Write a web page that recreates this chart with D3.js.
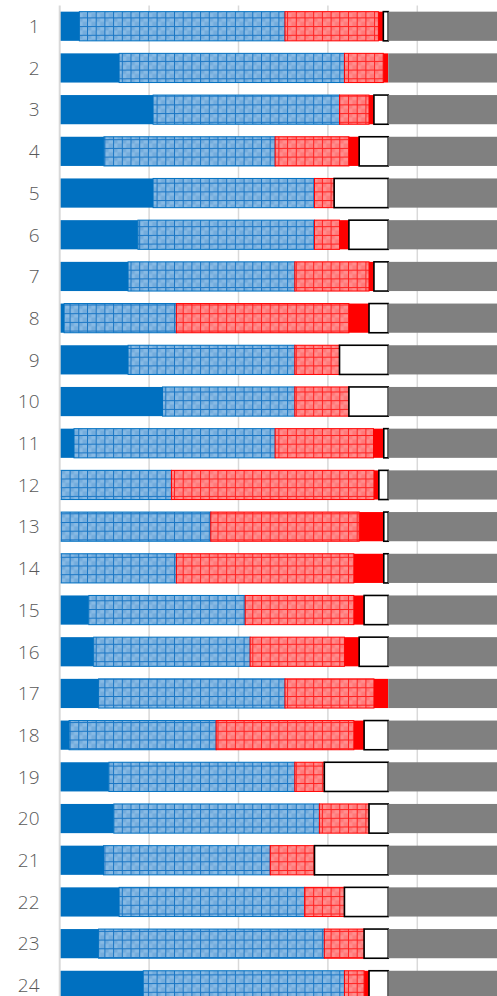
<!DOCTYPE html>
<html>
<head>
<meta charset="utf-8">
<script src="https://cdn.jsdelivr.net/npm/d3@7"></script>
<style>
  body { margin: 0; background: #fff; }
  svg { display: block; }
</style>
</head>
<body>
<div id="chart"></div>
<script>
// row labels
const categories = d3.range(1, 25).map(String)

// segment lengths per row, same order as categories
const solidBlue = [4.4, 13.3, 20.9, 9.9, 20.9, 17.5, 15.3, 1.0, 15.3, 23.0, 3.2, 0,
                   0, 0, 6.5, 7.6, 8.7, 2.1, 11.0, 12.1, 9.8, 13.3, 8.7, 18.7]
const hatchBlue = [46.0, 50.4, 41.7, 38.3, 36.1, 39.5, 37.3, 25.1, 37.3, 29.6, 45.0, 25.0,
                   33.8, 26.1, 35.0, 35.0, 41.7, 32.9, 41.6, 46.0, 37.3, 41.5, 50.5, 45.0]
const hatchRed  = [20.9, 8.7, 6.6, 16.5, 4.4, 5.6, 16.6, 38.6, 10.0, 12.1, 22.0, 45.3,
                   33.2, 39.7, 24.3, 21.1, 19.9, 30.8, 6.6, 11.1, 9.9, 8.9, 8.9, 4.4]
const solidRed  = [1.1, 1.1, 1.1, 2.3, 0, 2.1, 1.1, 4.5, 0, 0, 2.3, 1.1,
                   5.5, 6.7, 2.3, 3.3, 3.2, 2.3, 0, 0, 0, 0, 0, 1.1]
const whiteSeg  = [1.1, 0, 3.2, 6.5, 12.1, 8.8, 3.2, 4.3, 10.9, 8.8, 1.0, 2.1,
                   1.0, 1.0, 5.4, 6.5, 0, 5.4, 14.3, 4.3, 16.5, 9.8, 5.4, 4.3]
const greySeg   = categories.map(() => 26.5)

const xTicks = [0, 20, 40, 60, 80, 100]

const keys = ['solidBlue', 'hatchBlue', 'hatchRed', 'solidRed', 'white', 'grey']
const table = categories.map((c, i) => ({
    cat: c,
    solidBlue: solidBlue[i],
    hatchBlue: hatchBlue[i],
    hatchRed: hatchRed[i],
    solidRed: solidRed[i],
    white: whiteSeg[i],
    grey: greySeg[i]
}))

const width = 497, height = 996

const svg = d3.select('#chart').append('svg')
    .attr('width', width)
    .attr('height', height)

const x = d3.scaleLinear().domain([0, 100]).range([59.7, 506.7])
const y = d3.scaleBand().domain(categories)
    .range([5.4, 5.4 + 24 * 41.7])
    .paddingInner(0.3)
    .paddingOuter(0.15)

// grid patterns for the hatched segments
const defs = svg.append('defs')
const makePattern = (id, base, check, line) => {
    const s = 8.7
    const p = defs.append('pattern')
        .attr('id', id)
        .attr('patternUnits', 'userSpaceOnUse')
        .attr('width', s)
        .attr('height', s)
    p.append('rect').attr('width', s).attr('height', s).attr('fill', base)
    p.append('rect').attr('width', s / 2).attr('height', s / 2).attr('fill', check)
    p.append('rect').attr('x', s / 2).attr('y', s / 2)
        .attr('width', s / 2).attr('height', s / 2).attr('fill', check)
    p.append('line').attr('x1', 0.5).attr('x2', 0.5).attr('y1', 0).attr('y2', s)
        .attr('stroke', line).attr('stroke-width', 1)
    p.append('line').attr('y1', 0.5).attr('y2', 0.5).attr('x1', 0).attr('x2', s)
        .attr('stroke', line).attr('stroke-width', 1)
}
makePattern('gridBlue', '#88bae4', '#74acdc', '#1a76c4')
makePattern('gridRed', '#ff8e8e', '#ff7a7a', '#ff2020')

// vertical gridlines
svg.append('g')
    .selectAll('line')
    .data(xTicks.slice(1))
    .enter()
    .append('line')
        .attr('x1', d => x(d))
        .attr('x2', d => x(d))
        .attr('y1', 5.5)
        .attr('y2', height)
        .style('stroke', '#d9d9d9')
        .style('stroke-width', 1.5)

const fills = {
    solidBlue: '#0070c0',
    hatchBlue: 'url(#gridBlue)',
    hatchRed: 'url(#gridRed)',
    solidRed: '#ff0000',
    white: '#ffffff',
    grey: '#808080'
}
const strokes = {
    solidBlue: 'none',
    hatchBlue: '#0070c0',
    hatchRed: '#ff0000',
    solidRed: 'none',
    white: '#000000',
    grey: 'none'
}

const series = d3.stack().keys(keys)(table)

svg.append('g')
    .selectAll('g')
    .data(series)
    .enter()
    .append('g')
        .style('fill', d => fills[d.key])
        .style('stroke', d => strokes[d.key])
        .style('stroke-width', d => d.key === 'white' ? 1.6 : 1)
    .selectAll('rect')
    .data(d => d.filter(s => s[1] - s[0] > 0))
    .enter()
    .append('rect')
        .attr('x', d => x(d[0]))
        .attr('y', d => y(d.data.cat))
        .attr('width', d => x(d[1]) - x(d[0]))
        .attr('height', y.bandwidth())

// category axis line
svg.append('line')
    .attr('x1', x(0))
    .attr('x2', x(0))
    .attr('y1', 5.5)
    .attr('y2', height)
    .style('stroke', '#d9d9d9')
    .style('stroke-width', 2)

// category labels
svg.append('g')
    .selectAll('text')
    .data(categories)
    .enter()
    .append('text')
        .attr('x', 39.5)
        .attr('y', d => y(d) + y.bandwidth() / 2)
        .attr('dy', '0.36em')
        .attr('text-anchor', 'end')
        .style('font-family', '"Open Sans", "Noto Sans", sans-serif')
        .style('font-size', '19px')
        .style('font-weight', 300)
        .style('fill', '#595959')
        .text(d => d)
</script>
</body>
</html>
